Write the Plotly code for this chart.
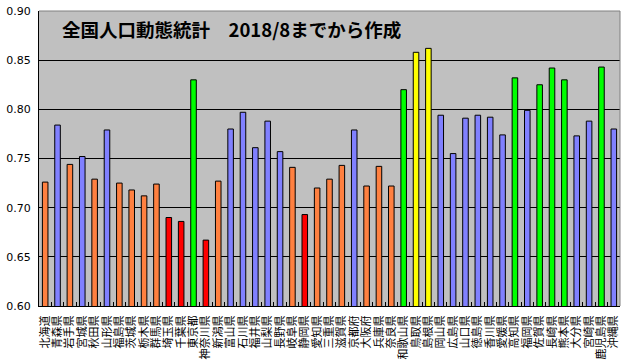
import plotly.graph_objects as go

prefectures = ["北海道","青森県","岩手県","宮城県","秋田県","山形県","福島県","茨城県","栃木県","群馬県",
               "埼玉県","千葉県","東京都","神奈川県","新潟県","富山県","石川県","福井県","山梨県","長野県",
               "岐阜県","静岡県","愛知県","三重県","滋賀県","京都府","大阪府","兵庫県","奈良県","和歌山県",
               "鳥取県","島根県","岡山県","広島県","山口県","徳島県","香川県","愛媛県","高知県","福岡県",
               "佐賀県","長崎県","熊本県","大分県","宮崎県","鹿児島県","沖縄県"]

values = [0.726, 0.784, 0.744, 0.752, 0.729, 0.779, 0.725, 0.718, 0.712, 0.724,
          0.690, 0.686, 0.830, 0.667, 0.727, 0.780, 0.797, 0.761, 0.788, 0.757,
          0.741, 0.693, 0.720, 0.729, 0.743, 0.779, 0.722, 0.742, 0.722, 0.820,
          0.858, 0.862, 0.794, 0.755, 0.791, 0.794, 0.792, 0.774, 0.832, 0.799,
          0.825, 0.842, 0.830, 0.773, 0.788, 0.843, 0.780]

color_groups = ["o","b","o","b","o","b","o","o","o","o",
                "r","r","g","r","o","b","b","b","b","b",
                "o","r","o","o","o","b","o","o","o","g",
                "y","y","b","b","b","b","b","b","g","b",
                "g","g","g","b","b","g","b"]

palette = {"o": "#FF8040", "b": "#8080FF", "r": "#FF0000", "g": "#00FF00", "y": "#FFFF00"}

y_ticks = [0.60, 0.65, 0.70, 0.75, 0.80, 0.85, 0.90]
y_tick_text = ["0.60", "0.65", "0.70", "0.75", "0.80", "0.85", "0.90"]

title_text = "全国人口動態統計　2018/8までから作成"

fig = go.Figure(go.Bar(
    x=prefectures, y=values, width=0.45,
    marker=dict(color=[palette[c] for c in color_groups], line=dict(color="black", width=1)),
))

font_jp = "Noto Sans CJK JP"

fig.update_layout(
    width=625, height=362,
    margin=dict(l=39, r=5, t=11, b=56),
    paper_bgcolor="white", plot_bgcolor="#C0C0C0",
    showlegend=False,
    font=dict(family=font_jp, size=11, color="black"),
    xaxis=dict(type="category", tickangle=-90, showline=True, linecolor="black", linewidth=1,
               tickmode="array", tickvals=prefectures, ticktext=prefectures,
               ticks="inside", tickson="boundaries", ticklen=4, tickcolor="black",
               ticklabelstandoff=4,
               tickfont=dict(size=11, family=font_jp), showgrid=False, automargin=False),
    yaxis=dict(range=[0.6, 0.9], tickvals=y_ticks, ticktext=y_tick_text, showline=True,
               linecolor="black", linewidth=1, gridcolor="black", gridwidth=1,
               ticks="", automargin=False, ticklabelstandoff=5,
               tickfont=dict(size=11, family="DejaVu Sans")),
    bargap=0.55,
    annotations=[dict(text="<b>" + title_text + "</b>", xref="paper", yref="paper",
                      x=0.037, y=0.94, xanchor="left", yanchor="middle", showarrow=False,
                      font=dict(size=18.5, family=font_jp, color="black"))],
    shapes=[
        dict(type="line", xref="paper", yref="paper", x0=0, x1=1, y0=1, y1=1,
             line=dict(color="#808080", width=1)),
        dict(type="line", xref="paper", yref="paper", x0=1, x1=1, y0=0, y1=1,
             line=dict(color="#808080", width=1)),
    ],
)

# remove the page's default 8px body margin so the figure fills the window exactly
fig.write_html("out.html", config={"displayModeBar": False},
               post_script="document.body.style.margin='0px';")
